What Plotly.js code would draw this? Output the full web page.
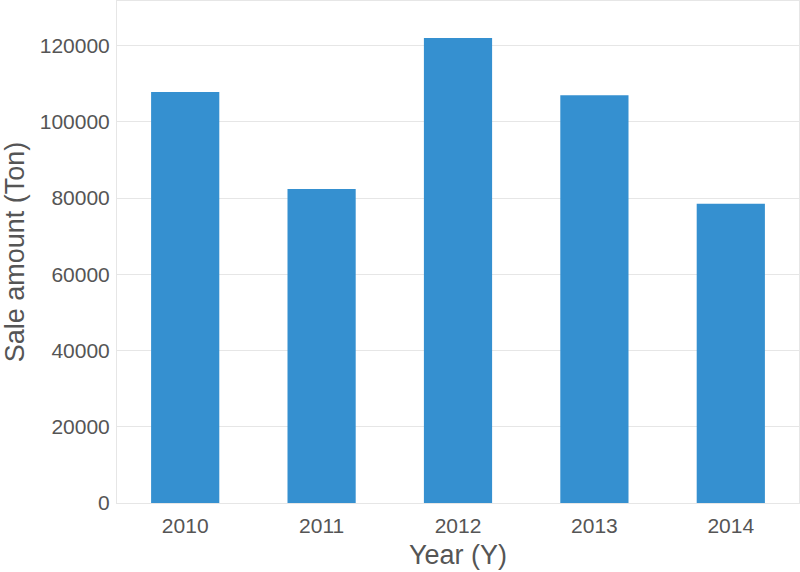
<!DOCTYPE html>
<html>
<head>
<meta charset="utf-8">
<script src="https://cdn.plot.ly/plotly-3.0.1.min.js"></script>
<style>html,body{margin:0;padding:0;background:#fff;}#chart{width:800px;height:572px;}</style>
</head>
<body>
<div id="chart"></div>
<script>
const years = ["2010", "2011", "2012", "2013", "2014"];
const saleAmounts = [107800, 82400, 122000, 107000, 78500];
const yTickValues = [0, 20000, 40000, 60000, 80000, 100000, 120000];

const trace = {
  type: "bar",
  x: years,
  y: saleAmounts,
  marker: {color: "#3590d0", line: {width: 0}},
  hoverinfo: "x+y"
};

const layout = {
  width: 800,
  height: 572,
  margin: {l: 117, r: 1, t: 1, b: 69},
  paper_bgcolor: "#ffffff",
  plot_bgcolor: "#ffffff",
  bargap: 0.5,
  showlegend: false,
  font: {family: "Arial, 'Liberation Sans', sans-serif", color: "#555555"},
  xaxis: {
    type: "category",
    range: [-0.5, 4.5],
    showgrid: false,
    showline: true,
    linecolor: "#e6e6e6",
    linewidth: 1,
    mirror: true,
    ticks: "",
    tickfont: {size: 21, color: "#555555"},
    ticklabelstandoff: 4,
    title: {text: "Year (Y)", font: {size: 27, color: "#555555"}, standoff: 8}
  },
  yaxis: {
    range: [0, 131700],
    tickvals: yTickValues,
    ticktext: yTickValues.map(String),
    showgrid: true,
    gridcolor: "#e6e6e6",
    gridwidth: 1,
    zeroline: false,
    showline: true,
    linecolor: "#e6e6e6",
    linewidth: 1,
    mirror: true,
    ticks: "",
    tickfont: {size: 21, color: "#555555"},
    ticklabelstandoff: 2,
    title: {text: "Sale amount (Ton)", font: {size: 27, color: "#555555"}, standoff: 10}
  }
};

Plotly.newPlot("chart", [trace], layout, {displayModeBar: false, staticPlot: true});
</script>
</body>
</html>
